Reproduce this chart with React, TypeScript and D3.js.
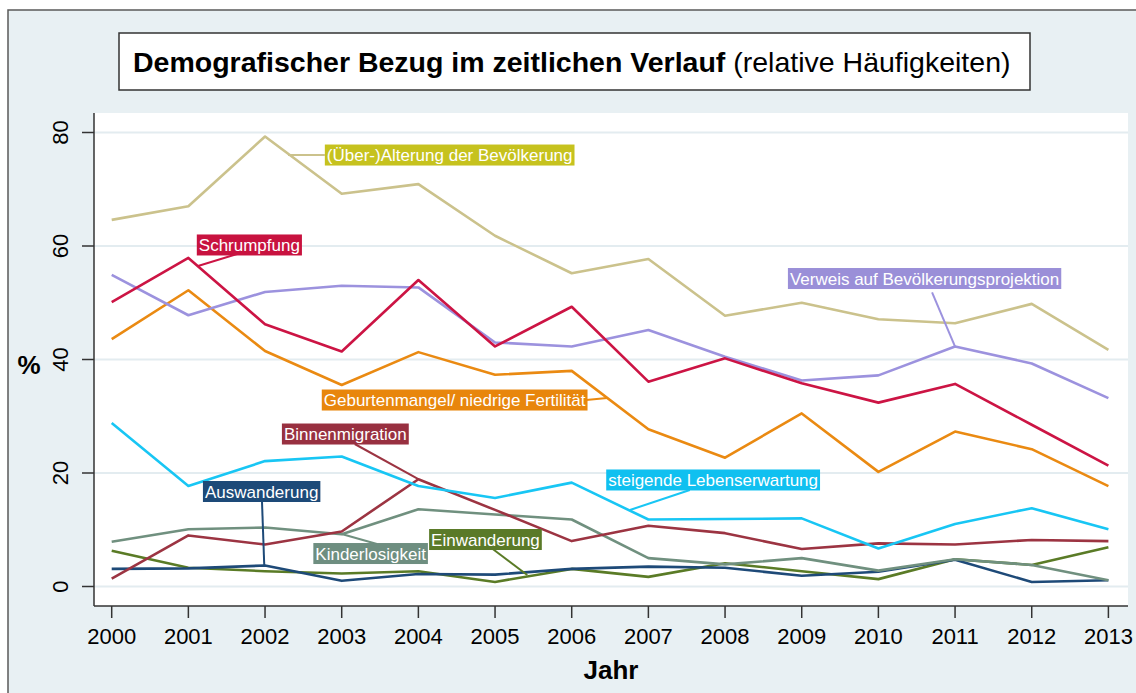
import React, { useEffect, useRef } from "react";
import * as d3 from "d3";

const years = [2000, 2001, 2002, 2003, 2004, 2005, 2006, 2007, 2008, 2009, 2010, 2011, 2012, 2013];
const yTicks = [0, 20, 40, 60, 80];

const alterung = [64.6, 67.0, 79.3, 69.2, 70.9, 61.8, 55.2, 57.7, 47.7, 50.0, 47.1, 46.4, 49.8, 41.7];
const schrumpfung = [50.1, 57.9, 46.2, 41.4, 54.0, 42.3, 49.3, 36.1, 40.2, 35.8, 32.4, 35.7, 28.5, 21.3];
const verweis = [54.9, 47.8, 51.9, 53.0, 52.7, 43.0, 42.3, 45.2, 40.5, 36.3, 37.2, 42.3, 39.3, 33.2];
const geburtenmangel = [43.6, 52.2, 41.5, 35.5, 41.3, 37.3, 38.0, 27.7, 22.7, 30.5, 20.2, 27.3, 24.2, 17.7];
const lebenserwartung = [28.8, 17.7, 22.1, 22.9, 17.7, 15.6, 18.3, 11.8, 11.9, 12.0, 6.7, 11.0, 13.8, 10.1];
const binnenmigration = [1.4, 9.0, 7.4, 9.7, 18.9, 13.5, 8.0, 10.7, 9.4, 6.6, 7.6, 7.4, 8.2, 8.0];
const kinderlosigkeit = [7.9, 10.1, 10.4, 9.2, 13.6, 12.7, 11.8, 5.0, 3.9, 5.0, 2.8, 4.8, 3.8, 1.1];
const auswanderung = [3.1, 3.2, 3.7, 1.0, 2.2, 2.1, 3.1, 3.5, 3.3, 1.9, 2.6, 4.7, 0.8, 1.1];
const einwanderung = [6.3, 3.3, 2.7, 2.3, 2.7, 0.8, 3.1, 1.7, 4.1, 2.7, 1.3, 4.8, 3.8, 6.9];

const seriesNames = [
  "(Über-)Alterung der Bevölkerung",
  "Schrumpfung",
  "Verweis auf Bevölkerungsprojektion",
  "Geburtenmangel/ niedrige Fertilität",
  "steigende Lebenserwartung",
  "Binnenmigration",
  "Kinderlosigkeit",
  "Auswanderung",
  "Einwanderung",
];
const seriesValues = [alterung, schrumpfung, verweis, geburtenmangel, lebenserwartung, binnenmigration, kinderlosigkeit, auswanderung, einwanderung];
const lineColors = ["#cbc28c", "#cc1444", "#9c92de", "#ea8a12", "#18c6f4", "#9c3442", "#70907f", "#1e4a78", "#5a7b26"];
const labelColors = ["#c6c21e", "#c8123f", "#9a8fd8", "#e8860c", "#10c0f0", "#983040", "#6e8e80", "#1d4a78", "#5a7a28"];

// label annotations in data units: box left year, box centre value, connector [year,value] -> [year,value]
const labelBoxYear = [2002.78, 2001.11, 2008.82, 2002.74, 2002.22, 2006.45, 2001.19, 2002.63, 2004.14];
const labelBoxValue = [76.03, 60.18, 54.27, 32.86, 26.87, 18.77, 16.74, 5.81, 8.28];
const connectorFrom = [[2002.30, 76.03], [2001.126, 56.48], [2010.70, 51.81], [2006.19, 32.86], [2003.17, 25.11], [2007.54, 17.0], [2001.96, 15.07], [2003.0, 9.25], [2004.97, 6.61]];
const connectorTo = [[2002.78, 76.03], [2001.635, 58.59], [2011.0, 42.26], [2006.46, 33.22], [2004.0, 18.94], [2006.76, 13.48], [2001.99, 3.61], [2003.46, 7.49], [2005.42, 2.03]];
// label order in the 9 series arrays above
const labelSeriesIndex = [0, 1, 2, 3, 5, 4, 7, 6, 8];

export default function App() {
  const ref = useRef<SVGSVGElement | null>(null);

  useEffect(() => {
    const svg = d3.select(ref.current);
    svg.selectAll("*").remove();
    const W = 1136, H = 693;
    const font = "'Liberation Sans', Arial, Helvetica, sans-serif";

    svg.append("rect").attr("x", 0).attr("y", 0).attr("width", W).attr("height", H).attr("fill", "#ffffff");
    svg.append("rect").attr("x", 8).attr("y", 10).attr("width", W + 20).attr("height", H + 20)
      .attr("fill", "#e8f0f3").attr("stroke", "#5a5a5a").attr("stroke-width", 1.5);

    // Title
    svg.append("rect").attr("x", 119).attr("y", 33).attr("width", 911).attr("height", 57)
      .attr("fill", "#ffffff").attr("stroke", "#333").attr("stroke-width", 1.5);
    const t = svg.append("text").attr("x", 133).attr("y", 72).attr("font-family", font).attr("font-size", 28.5).attr("fill", "#000");
    t.append("tspan").attr("font-weight", "bold").text("Demografischer Bezug im zeitlichen Verlauf");
    t.append("tspan").text(" (relative Häufigkeiten)");

    const left = 94, right = 1128, top = 113, bottom = 606;
    const x = d3.scaleLinear().domain([2000, 2013]).range([111.7, 1108.4]);
    const y = d3.scaleLinear().domain([0, 80]).range([586.5, 132.5]);

    svg.append("rect").attr("x", left).attr("y", top).attr("width", right - left).attr("height", bottom - top).attr("fill", "#ffffff");

    // grid
    svg.append("g").selectAll("line").data(yTicks).join("line")
      .attr("x1", left).attr("x2", right).attr("y1", (d) => y(d)).attr("y2", (d) => y(d))
      .attr("stroke", "#e3ecf0").attr("stroke-width", 2);

    // axes
    svg.append("line").attr("x1", left).attr("x2", left).attr("y1", top).attr("y2", bottom).attr("stroke", "#333").attr("stroke-width", 1.5);
    svg.append("line").attr("x1", left).attr("x2", right).attr("y1", bottom).attr("y2", bottom).attr("stroke", "#333").attr("stroke-width", 1.5);

    const yt = svg.append("g");
    yt.selectAll("line").data(yTicks).join("line")
      .attr("x1", 82).attr("x2", left).attr("y1", (d) => y(d)).attr("y2", (d) => y(d)).attr("stroke", "#333").attr("stroke-width", 1.5);
    yt.selectAll("text").data(yTicks).join("text")
      .attr("transform", (d) => `translate(68,${y(d)}) rotate(-90)`)
      .attr("text-anchor", "middle").attr("font-family", font).attr("font-size", 22).attr("fill", "#000")
      .text((d) => String(d));

    const xt = svg.append("g");
    xt.selectAll("line").data(years).join("line")
      .attr("x1", (d) => x(d)).attr("x2", (d) => x(d)).attr("y1", bottom).attr("y2", 618).attr("stroke", "#333").attr("stroke-width", 1.5);
    xt.selectAll("text").data(years).join("text")
      .attr("x", (d) => x(d)).attr("y", 644).attr("text-anchor", "middle")
      .attr("font-family", font).attr("font-size", 22).attr("fill", "#000").text((d) => String(d));

    svg.append("text").attr("x", 611).attr("y", 679).attr("text-anchor", "middle").attr("font-family", font)
      .attr("font-size", 26).attr("font-weight", "bold").text("Jahr");
    svg.append("text").attr("x", 29).attr("y", 374).attr("text-anchor", "middle").attr("font-family", font)
      .attr("font-size", 26).attr("font-weight", "bold").text("%");

    // lines
    const line = d3.line<number>().x((_, i) => x(years[i])).y((d) => y(d));
    const lg = svg.append("g");
    for (let s = seriesValues.length - 1; s >= 0; s--) {
      lg.append("path").attr("d", line(seriesValues[s]) || "").attr("fill", "none")
        .attr("stroke", lineColors[s]).attr("stroke-width", 2.6).attr("stroke-linejoin", "round");
    }

    // labels
    const lab = svg.append("g");
    labelSeriesIndex.forEach((s, k) => {
      const c = lineColors[s];
      const [fy, fv] = connectorFrom[k];
      const [ty, tv] = connectorTo[k];
      lab.append("line").attr("x1", x(fy)).attr("y1", y(fv)).attr("x2", x(ty)).attr("y2", y(tv))
        .attr("stroke", c).attr("stroke-width", 2);
    });
    labelSeriesIndex.forEach((s, k) => {
      const bx = x(labelBoxYear[k]);
      const cy = y(labelBoxValue[k]);
      const g = lab.append("g");
      const rect = g.append("rect").attr("fill", labelColors[s]);
      const txt = g.append("text").attr("x", bx + 2).attr("y", cy + 6).attr("font-family", font)
        .attr("font-size", 17).attr("fill", "#ffffff").text(seriesNames[s]);
      const w = (txt.node() as SVGTextElement).getComputedTextLength();
      rect.attr("x", bx).attr("y", cy - 10.5).attr("width", w + 4).attr("height", 21);
    });
  }, []);

  return (
    <svg ref={ref} width={1136} height={693} style={{ position: "absolute", left: 0, top: 0, display: "block" }} />
  );
}
